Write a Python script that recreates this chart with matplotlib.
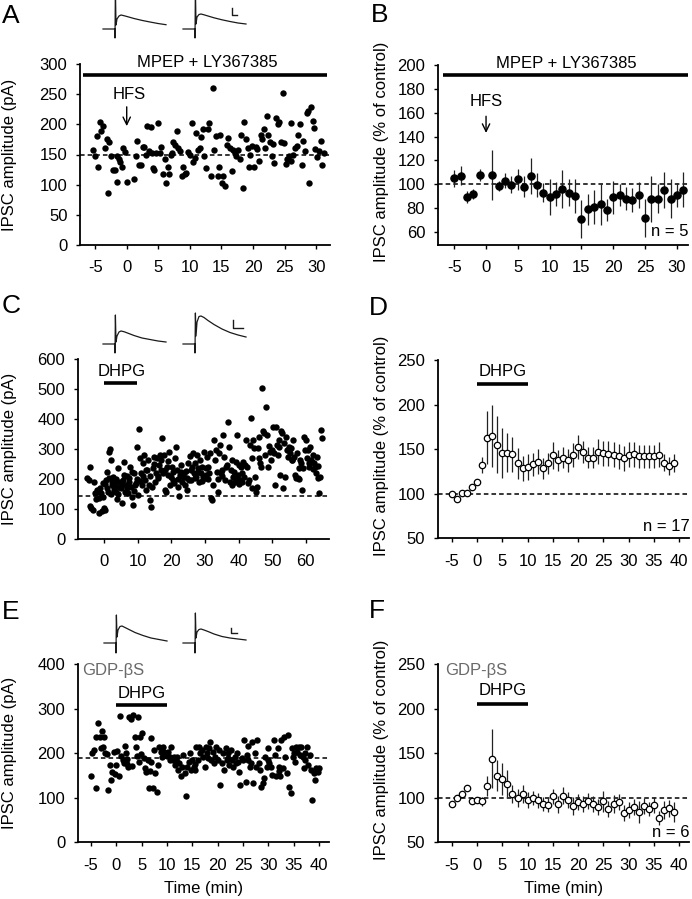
import matplotlib
matplotlib.use('Agg')
import matplotlib.pyplot as plt

plt.rcParams['font.family'] = ['Liberation Sans', 'DejaVu Sans']
plt.rcParams['font.size'] = 12
plt.rcParams['axes.unicode_minus'] = False

# ---------------- data ----------------
# Panel A: single-cell IPSC amplitudes (time min, pA)
a_points = [(-5.3,157),(-5,147),(-4.7,180),(-4.5,130),(-4.2,204),(-4,189),(-3.7,197),(-3.5,160),(-3.2,175),(-3,86),
            (-2.8,170),(-2.5,147),(-2.2,124),(-1.9,124),(-1.6,104),(-1.5,147),(-1.2,143),(-1,138),(-0.8,130),(-0.6,160),
            (-0.3,154),(0,104),(1.2,109),(1.5,148),(1.7,173),(1.9,132),(2.2,132),(2.5,163),(2.7,163),(3,149),
            (3.2,197),(3.5,155),(3.8,196),(4,153),(4.2,128),(4.4,124),(4.7,153),(5,203),(5.2,153),(5.5,163),
            (5.7,118),(6,143),(6.2,103),(6.5,130),(6.7,118),(7,150),(7.2,153),(7.4,171),(7.7,166),(7.9,189),
            (8.1,160),(8.4,155),(8.7,115),(8.9,130),(9.2,118),(9.4,120),(9.7,154),(10,150),(10.3,203),(10.5,137),
            (10.8,144),(11,186),(11.3,158),(11.6,161),(11.8,179),(12.1,192),(12.3,148),(12.6,127),(12.8,192),(13.1,203),
            (13.4,115),(13.6,260),(13.8,157),(14.1,181),(14.4,114),(14.6,130),(14.8,183),(15.1,103),(15.3,114),(15.6,98),
            (15.9,166),(16.1,178),(16.4,161),(16.6,123),(16.9,157),(17.1,153),(17.3,148),(17.6,157),(17.9,143),(18.1,183),
            (18.4,94),(18.6,204),(18.9,176),(19.2,160),(19.4,130),(19.6,150),(19.9,164),(20.1,130),(20.4,162),(20.7,159),
            (20.9,139),(21.2,182),(21.4,176),(21.7,193),(21.9,161),(22.2,214),(22.4,182),(22.7,170),(23,148),(23.2,168),
            (23.4,136),(23.7,211),(24,200),(24.2,204),(24.4,170),(24.7,252),(24.9,169),(25.2,134),(25.4,142),(25.7,147),
            (26,202),(26.1,139),(26.4,150),(26.7,161),(26.9,164),(27.2,183),(27.4,200),(27.7,132),(28,172),(28.2,155),
            (28.5,219),(28.7,222),(28.9,102),(29.2,229),(29.5,206),(29.7,194),(29.9,159),(30.2,146),(30.4,155),(30.7,172),
            (30.9,133),(31.2,153)]
a_baseline = 150

# Panel B: mean +/- SEM (% of control), n = 5
b_points = [(-5,105,7),(-4,107,8),(-3,89,5),(-2,92,4),(-1,107.5,5),(1,108,21),(2,98.5,4),(3,103,6),(4,99.5,7),
            (5,104,9),(6,98,9),(7,107,15),(8,99,10),(9,93,8),(10,89,15),(11,92,10),(12,96,16),(13,93,11),(14,90,14),
            (15,71,16),(16,79,13),(17,81,14),(18,83,17),(19,78.5,9),(20,89,14),(21,91,9),(22,88,10),(23,87,10),
            (24,91,11),(25,72,16),(26,87.5,19),(27,88,12),(28,95,15),(29,88,16),(30,91,10),(31,95.5,15)]

# Panel C: single-cell IPSC amplitudes (time min, pA)
c_points = [(-5,203),(-4.5,197),(-4.2,242),(-4.3,111),(-3.8,102),(-3.4,97),(-3,191),(-2.8,152),(-2.4,132),(-2.3,164),
            (-2,158),(-1.7,86),(-1.5,136),(-1.3,169),(-1,152),(-0.7,95),(-0.5,186),(-0.3,141),(-0.1,102),(0.3,97),
            (0.5,197),(0.7,225),(1,158),(1.3,292),(1.6,301),(1.9,264),(2.2,191),(2.4,180),(2.7,208),(3,175),
            (3.3,188),(3.6,158),(3.9,132),(4.1,238),(4.4,175),(4.7,191),(5,169),(5.3,119),(5.6,197),(5.9,256),
            (6.2,158),(6.5,180),(6.8,210),(7.1,152),(7.4,203),(7.7,242),(8,175),(8.3,141),(8.6,114),(8.9,219),
            (9.2,180),(9.5,186),(9.8,308),(10.1,147),(10.4,367),(10.6,269),(10.9,219),(11.2,180),(11.5,253),(11.8,281),
            (12.1,197),(12.4,164),(12.7,231),(13,264),(13.3,180),(13.6,130),(13.8,108),(14.1,175),(14.4,236),(14.7,275),
            (15,191),(15.3,219),(15.6,269),(15.9,203),(16.2,247),(16.5,281),(16.8,231),(17.1,336),(17.4,222),(17.7,281),
            (18,164),(18.3,158),(18.6,242),(18.9,214),(19.2,292),(19.5,180),(19.8,208),(20.1,242),(20.4,197),(20.7,186),
            (21,269),(21.3,308),(21.6,231),(21.9,175),(22.2,144),(22.5,214),(22.8,247),(23.1,191),(23.4,208),(23.7,219),
            (24,180),(24.3,228),(24.6,164),(24.9,253),(25.2,197),(25.5,277),(25.8,197),(26.1,242),(26.4,286),(26.7,219),
            (27,253),(27.3,208),(27.6,281),(27.9,236),(28.2,191),(28.5,264),(28.8,219),(29.1,242),(29.4,208),(29.7,292),
            (30,203),(30.3,236),(30.6,275),(30.9,242),(31.2,219),(31.5,286),(31.8,136),(32.1,130),(32.4,180),(32.7,331),
            (33,264),(33.3,297),(33.6,225),(33.9,158),(34.2,286),(34.5,314),(34.8,219),(35.1,231),(35.4,347),(35.7,275),
            (36,197),(36.3,242),(36.6,247),(36.9,390),(37.2,308),(37.5,191),(37.8,231),(38.1,264),(38.4,208),(38.7,225),
            (39,191),(39.3,258),(39.6,347),(39.9,214),(40.2,247),(40.5,197),(40.8,242),(41.1,191),(41.4,258),(41.7,208),
            (42,247),(42.3,331),(42.6,242),(42.9,186),(43.2,197),(43.5,314),(43.8,403),(44.1,269),(44.4,331),(44.7,303),
            (45,208),(45.3,158),(45.6,175),(45.9,303),(46.2,342),(46.5,253),(46.8,242),(47.1,503),(47.4,359),(47.7,353),
            (48,281),(48.3,442),(48.6,347),(48.9,242),(49.2,292),(49.5,264),(49.8,297),(50.1,375),(50.4,286),(50.7,180),
            (51,375),(51.3,314),(51.6,281),(51.9,308),(52.2,214),(52.5,359),(52.8,353),(53.1,169),(53.4,320),(53.7,208),
            (54,342),(54.3,297),(54.6,275),(54.9,308),(55.2,286),(55.5,303),(55.8,264),(56.1,331),(56.4,275),(56.7,214),
            (57,203),(57.3,286),(57.6,203),(57.9,236),(58.2,264),(58.5,253),(58.8,164),(59.1,236),(59.4,342),(59.7,297),
            (60,331),(60.3,269),(60.6,297),(60.9,253),(61.2,308),(61.5,264),(61.8,258),(62.1,281),(62.4,253),(62.7,242),
            (63,219),(63.3,275),(63.6,203),(63.9,152),(64.2,208),(64.5,364),(64.8,336),
            (0.2,185),(0.9,170),(1.5,205),(2.0,150),(2.9,165),(3.5,200),(4.2,150),(5.2,185),(6.0,215),(6.7,170),
            (7.3,190),(8.2,225),(9.0,160),(9.7,200),(10.7,195),(11.4,210),(12.3,230),(13.5,210),(14.9,250),(16.0,210),
            (17.0,265),(18.1,230),(19.0,260),(20.5,225),(22.0,200),(23.0,225),(24.5,205),(25.9,230),(26.9,205),(27.8,225),
            (29.0,195),(30.4,215),(31.0,200),(34.0,200),(35.0,210),(38.0,180),(39.2,200),(40.0,185),(41.0,220),(44.0,170),
            (46.0,270),(49.0,310),(52.0,330),(56.0,265),(58.0,200),(61.0,240),(62.0,235),(63.5,245)]
c_baseline = 145

# Panel D: mean +/- SEM (% of control), n = 17
d_points = [(-5,100,1),(-4,94,1),(-3,101,1),(-2,101,1),(-1,107,1),(0,113,2),(1,132,9),(2,163,30),(3,165,35),
            (4,155,32),(5,146,28),(6,146,22),(7,144,20),(8,134,17),(9,128.5,14),(10,130,15),(11,133,13),(12,136,14),
            (13,128.5,12),(14,134,12),(15,143,15),(16,137.5,12),(17,140.5,12),(18,137.5,13),(19,143.5,13),(20,152.5,13),
            (21,147,12),(22,140.5,12),(23,140.5,12),(24,147,14),(25,145.5,14),(26,145,14),(27,143.5,14),(28,142,14),
            (29,140,14),(30,143.5,14),(31,144,14),(32,142,13),(33,142,13),(34,142,13),(35,142,13),(36,143.5,14),
            (37,135,10),(38,131,10),(39,134.5,10)]

# Panel E: single-cell IPSC amplitudes with GDP-betaS (time min, pA)
e_points = [(-5,150),(-4.7,200),(-4.3,207),(-4,121),(-3.9,237),(-3.5,267),(-3.3,236),(-3.1,211),(-2.9,249),(-2.7,215),
            (-2.4,237),(-2.2,200),(-1.9,198),(-1.6,118),(-1.3,174),(-1,140),(-0.8,159),(-0.5,204),(-0.3,154),(0,174),
            (0.1,206),(0.5,149),(0.8,284),(1,194),(1.3,185),(1.6,179),(1.8,216),(2.1,187),(2.4,169),(2.6,282),
            (2.9,276),(3.1,172),(3.4,286),(3.6,236),(3.9,215),(4.2,281),(4.4,181),(4.6,237),(4.9,198),(5.1,245),
            (5.4,189),(5.6,166),(5.9,159),(6.2,185),(6.4,121),(6.6,161),(6.9,234),(7.2,121),(7.4,207),(7.7,155),
            (8,114),(8.2,174),(8.5,215),(8.8,204),(9,192),(9.3,215),(9.5,204),(9.8,200),(10,194),(10.3,204),
            (10.6,192),(10.8,215),(11.1,185),(11.4,192),(11.6,174),(11.9,192),(12.2,163),(12.4,178),(12.7,148),(13,170),
            (13.2,196),(13.5,155),(13.8,103),(14,170),(14.3,181),(14.5,200),(14.8,163),(15,185),(15.3,170),(15.6,163),
            (15.8,215),(16.1,185),(16.4,215),(16.6,200),(16.9,207),(17.1,192),(17.4,170),(17.7,215),(17.9,200),(18.2,211),
            (18.4,226),(18.7,185),(19,204),(19.2,178),(19.5,192),(19.7,215),(20,185),(20.3,207),(20.5,129),(20.8,178),
            (21,200),(21.3,163),(21.6,211),(21.8,185),(22.1,200),(22.3,174),(22.6,207),(22.9,185),(23.1,170),(23.4,192),
            (23.6,178),(23.9,200),(24.2,159),(24.4,129),(24.7,189),(25,185),(25.2,230),(25.5,136),(25.7,196),(26,216),
            (26.3,170),(26.5,178),(26.8,226),(27,133),(27.3,200),(27.6,170),(27.8,230),(28.1,178),(28.4,163),(28.6,125),
            (28.9,133),(29.1,144),(29.4,192),(29.7,170),(29.9,211),(30.2,178),(30.5,170),(30.7,151),(31,230),(31.2,196),
            (31.5,148),(31.8,211),(32,170),(32.3,148),(32.5,230),(32.8,166),(33.1,237),(33.3,192),(33.6,155),(33.9,241),
            (34.1,125),(34.4,110),(34.6,211),(34.9,192),(35.2,181),(35.4,215),(35.7,204),(36,215),(36.2,196),(36.5,215),
            (36.8,192),(37,166),(37.3,185),(37.6,215),(37.8,174),(38.1,196),(38.4,163),(38.6,95),(38.9,155),(39.2,140),
            (39.4,166),(39.7,159),(39.9,166),
            (1.9,200),(2.2,175),(4.0,195),(6.8,180),(10.5,185),(12.0,180),(15.5,175),(18.0,190),(22.0,190),(24.0,180),
            (26.0,185),(30.0,185),(32.0,160),(35.0,200),(37.2,200)]
e_baseline = 189

# Panel F: mean +/- SEM (% of control), n = 6
f_points = [(-5,92.5,2),(-4,100,2),(-3,104.5,2),(-2,111,3),(-1,96,2),(0,98,2),(1,96,5),(2,113,11),(3,144,33),
            (4,125,17),(5,121,18),(6,116,15),(7,104.5,10),(8,100,10),(9,104.5,10),(10,98,9),(11,100,8),(12,97,8),
            (13,93,8),(14,91.5,8),(15,101.5,8),(16,92.5,10),(17,102.5,10),(18,98,9),(19,90.5,10),(20,95,9),(21,92.5,9),
            (22,96,9),(23,93,9),(24,90,9),(25,96,12),(26,87.5,9),(27,93,10),(28,95,9),(29,83,9),(30,86,9),(31,90,9),
            (32,84,12),(33,90.5,9),(34,87.5,8),(35,92,9),(36,77.5,8),(37,86,10),(38,88,10),(39,84,11)]

# Example sweeps above the scatter panels (time in ms from sweep start, current in arbitrary units)
trace_t = [0, 12, 12, 12.4, 13, 14, 16, 18, 21, 25, 31, 39, 47, 55, 63]
trace_a1 = [0, 0, -9, 40, 4, 10, 13, 14, 13.3, 12.2, 10.5, 8.6, 7, 5.5, 4.3]
trace_a2 = [0, 0, -9, 40, 5, 12, 14.5, 15, 14.2, 13, 11.2, 9.2, 7.5, 6, 5]
trace_c1 = [0, 0, -9, 29, 2, 8, 12, 13, 12.3, 10.8, 8.5, 6, 4.5, 3, 2]
trace_c2 = [0, 0, -9, 31, 8, 22, 27.5, 28, 26.5, 23.5, 19.5, 15, 11.5, 9, 7]
trace_e1 = [0, 0, -10, 28, 6, 13, 16.5, 17, 15.5, 13.5, 10.5, 7.5, 5, 3.5, 2]
trace_e2 = [0, 0, -10, 30, 5, 11, 13.5, 14, 13, 11.5, 9, 6.5, 5, 4, 3]
scalebar_a = ([132, 132, 137], [21, 14, 14])
scalebar_c = ([133, 133, 143], [24, 16, 16])
scalebar_e = ([131, 131, 137], [15, 10, 10])

# ---------------- figure ----------------
W, H = 692, 899
fig = plt.figure(figsize=(W / 100, H / 100), dpi=100)


def px_axes(l, r, t, b):
    return fig.add_axes([l / W, 1 - b / H, (r - l) / W, (b - t) / H])


def style(ax, xlim, ylim, xticks, yticks):
    ax.set_xlim(*xlim)
    ax.set_ylim(*ylim)
    ax.set_xticks(xticks)
    ax.set_yticks(yticks)
    for s in ('top', 'right'):
        ax.spines[s].set_visible(False)
    for s in ('left', 'bottom'):
        ax.spines[s].set_linewidth(1.3)
    ax.tick_params(direction='out', length=3, width=1, labelsize=12)
    ax.tick_params(axis='x', pad=8)
    ax.tick_params(axis='y', pad=6)
    ax.patch.set_alpha(0)


DASH = (0, (3, 2))


def dashed(ax, y):
    ax.axhline(y, color='black', lw=1.1, ls=DASH, zorder=1)


def unzip(points):
    return [list(c) for c in zip(*points)]


def scatter_panel(ax, points, ms):
    t, v = unzip(points)
    ax.plot(t, v, 'o', color='black', ms=ms, mew=0, zorder=3, clip_on=False)


def mean_panel(ax, points, filled, ms):
    t, m, e = unzip(points)
    ax.errorbar(t, m, yerr=e, fmt='o', ms=ms, mfc='black' if filled else 'white',
                mec='black', mew=0.9, ecolor='#222222', elinewidth=0.9, capsize=0, zorder=3, clip_on=False)


def down_arrow(ax, x, y_top, y_bottom):
    ax.annotate('', xy=(x, y_bottom), xytext=(x, y_top),
                arrowprops=dict(arrowstyle='->,head_length=0.45,head_width=0.22', lw=1.0, color='black',
                                shrinkA=0, shrinkB=0))


def traces(top, bottom, baseline_px, sweeps, bar):
    ax = px_axes(100, 250, top, bottom)
    ax.set_xlim(0, 150)
    ax.set_ylim(-(bottom - baseline_px), baseline_px - top)
    ax.axis('off')
    for start, amps in sweeps:
        ax.plot([start + t for t in trace_t], amps, color='#1a1a1a', lw=0.9)
    ax.plot(bar[0], bar[1], color='#1a1a1a', lw=1.0)


def panel_letter(x, y, s):
    fig.text(x / W, 1 - y / H, s, fontsize=19, ha='left', va='baseline')


# ---- A ----
axA = px_axes(80, 330, 64, 245)
style(axA, (-7.4, 32.2), (0, 300), [-5, 0, 5, 10, 15, 20, 25, 30], range(0, 301, 50))
scatter_panel(axA, a_points, 4.6)
dashed(axA, a_baseline)
axA.plot([-6.9, 31.7], [282, 282], color='black', lw=2.6, solid_capstyle='butt', clip_on=False)
axA.text(12.8, 302, 'MPEP + LY367385', ha='center', va='center', fontsize=12, clip_on=False)
axA.text(0.4, 250, 'HFS', ha='center', va='center', fontsize=12)
down_arrow(axA, 0, 229, 197)
axA.set_ylabel('IPSC amplitude (pA)', fontsize=12)
axA.yaxis.set_label_coords(-0.252, 0.5)
traces(0, 42, 29, [(3, trace_a1), (83, trace_a2)], scalebar_a)

# ---- B ----
axB = px_axes(437.7, 687.7, 65, 245)
style(axB, (-7.6, 31.7), (49, 200), [-5, 0, 5, 10, 15, 20, 25, 30], range(60, 201, 20))
dashed(axB, 100)
mean_panel(axB, b_points, True, 5.2)
axB.plot([-6.8, 31.7], [191.5, 191.5], color='black', lw=2.6, solid_capstyle='butt', clip_on=False)
axB.text(12.6, 201, 'MPEP + LY367385', ha='center', va='center', fontsize=12, clip_on=False)
axB.text(0, 169, 'HFS', ha='center', va='center', fontsize=12)
down_arrow(axB, 0, 157, 143)
axB.text(31.8, 60, 'n = 5', ha='right', va='center', fontsize=12)
axB.set_ylabel('IPSC amplitude (% of control)', fontsize=12)
axB.yaxis.set_label_coords(-0.195, 0.52)

# ---- C ----
axC = px_axes(77.7, 329.3, 359.3, 539)
style(axC, (-7.9, 67), (0, 600), range(0, 61, 10), range(0, 601, 100))
dashed(axC, c_baseline)
scatter_panel(axC, c_points, 4.6)
axC.plot([0, 9.9], [520, 520], color='black', lw=2.6, solid_capstyle='butt')
axC.text(5.2, 559, 'DHPG', ha='center', va='center', fontsize=12)
axC.set_ylabel('IPSC amplitude (pA)', fontsize=12)
axC.yaxis.set_label_coords(-0.241, 0.5)
traces(310, 356, 344, [(3, trace_c1), (83, trace_c2)], scalebar_c)

# ---- D ----
axD = px_axes(437.7, 689.3, 360, 538.3)
style(axD, (-7.8, 42), (50, 250), range(-5, 41, 5), range(50, 251, 50))
dashed(axD, 100)
mean_panel(axD, d_points, False, 4.6)
axD.plot([0, 10], [223, 223], color='black', lw=2.6, solid_capstyle='butt')
axD.text(5, 237, 'DHPG', ha='center', va='center', fontsize=12)
axD.text(42, 63.5, 'n = 17', ha='right', va='center', fontsize=12)
axD.set_ylabel('IPSC amplitude (% of control)', fontsize=12)
axD.yaxis.set_label_coords(-0.194, 0.52)

# ---- E ----
axE = px_axes(77.7, 329.3, 664.3, 842.3)
style(axE, (-7.6, 42), (0, 400), range(-5, 41, 5), range(0, 401, 100))
dashed(axE, e_baseline)
scatter_panel(axE, e_points, 4.6)
axE.plot([0, 10], [309, 309], color='black', lw=2.6, solid_capstyle='butt')
axE.text(5, 335, 'DHPG', ha='center', va='center', fontsize=12)
axE.text(-6.8, 387, 'GDP-\u03b2S', ha='left', va='center', fontsize=12, color='#6a6a6a')
axE.set_ylabel('IPSC amplitude (pA)', fontsize=12)
axE.yaxis.set_label_coords(-0.241, 0.5)
axE.set_xlabel('Time (min)', fontsize=12, labelpad=6)
traces(610, 656, 643, [(4, trace_e1), (83, trace_e2)], scalebar_e)

# ---- F ----
axF = px_axes(437.7, 689.3, 664.3, 842.3)
style(axF, (-7.8, 42), (50, 250), range(-5, 41, 5), range(50, 251, 50))
dashed(axF, 100)
mean_panel(axF, f_points, False, 4.6)
axF.plot([0, 10], [205, 205], color='black', lw=2.6, solid_capstyle='butt')
axF.text(5, 220.6, 'DHPG', ha='center', va='center', fontsize=12)
axF.text(-6.3, 243, 'GDP-\u03b2S', ha='left', va='center', fontsize=12, color='#6a6a6a')
axF.text(42, 61.4, 'n = 6', ha='right', va='center', fontsize=12)
axF.set_ylabel('IPSC amplitude (% of control)', fontsize=12)
axF.yaxis.set_label_coords(-0.194, 0.52)
axF.set_xlabel('Time (min)', fontsize=12, labelpad=6)

# ---- panel letters ----
panel_letter(2, 23, 'A')
panel_letter(371, 22, 'B')
panel_letter(2, 313, 'C')
panel_letter(369, 315, 'D')
panel_letter(2, 619, 'E')
panel_letter(369, 618, 'F')

fig.savefig('out.png', dpi=100)
